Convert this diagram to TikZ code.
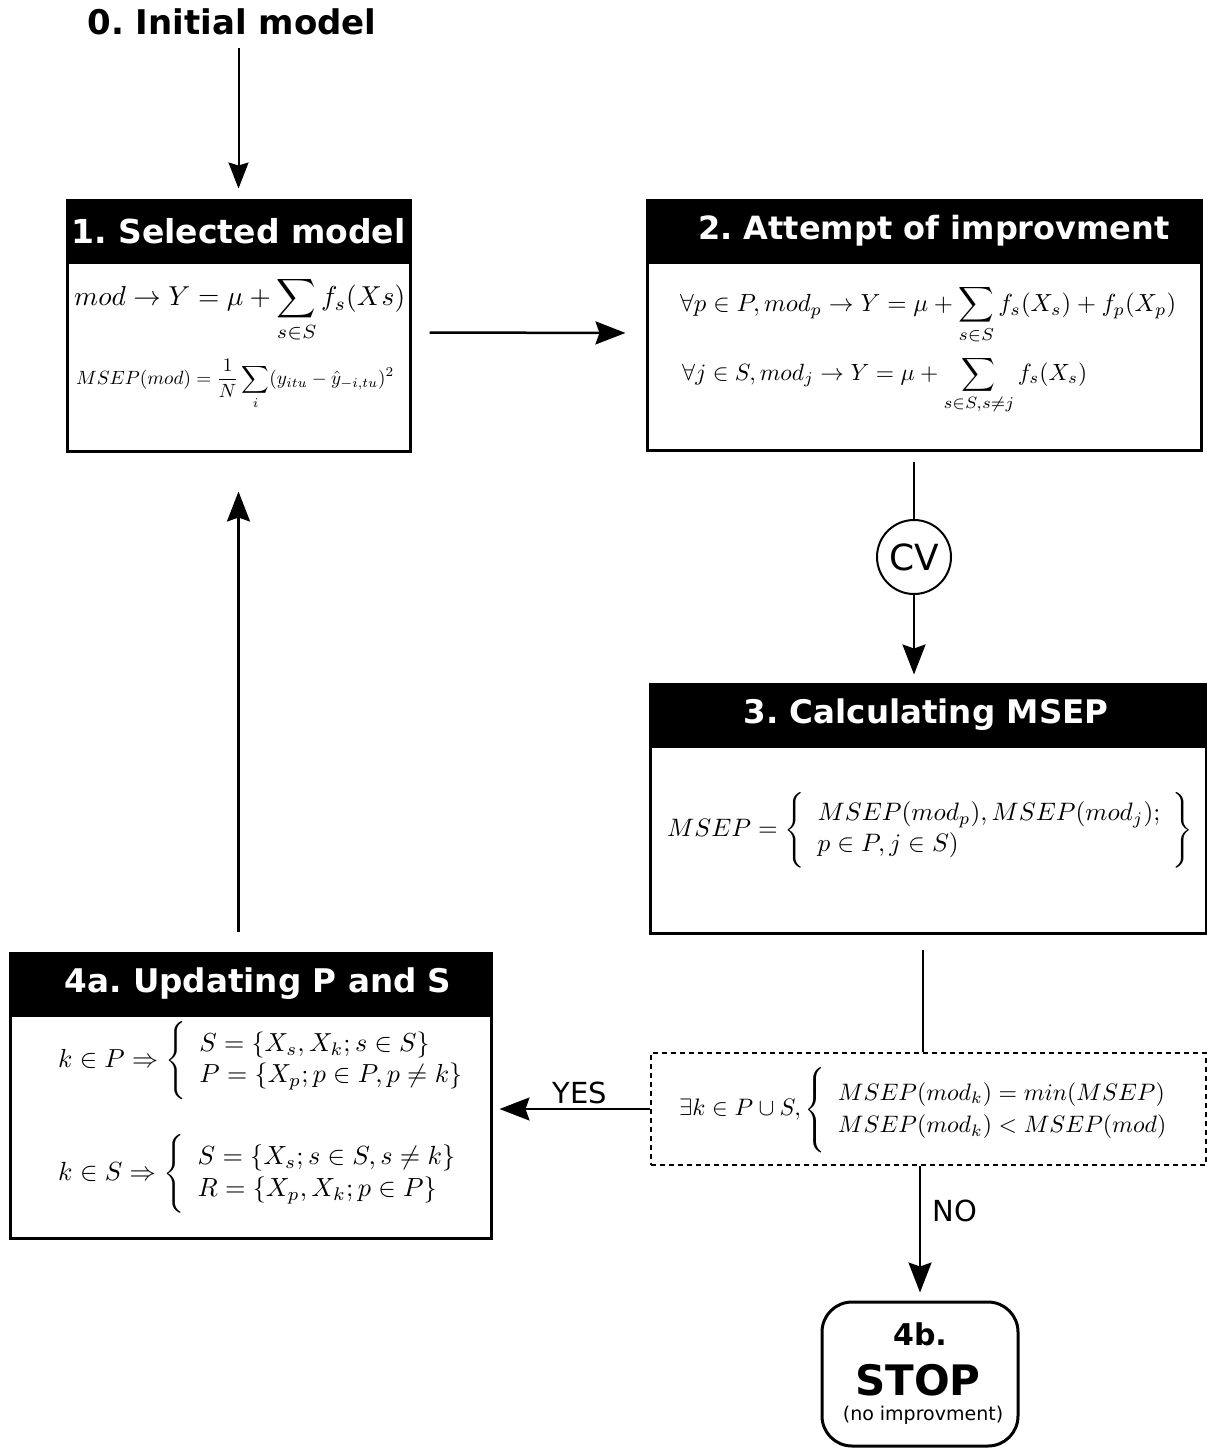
\documentclass[tikz,border=0pt]{standalone}
\usepackage{amsmath}
\usepackage{graphicx}
\usepackage{fontspec}
\newfontfamily\dvs{DejaVu Sans}
\usetikzlibrary{arrows.meta,calc}
\begin{document}
\begin{tikzpicture}[x=1pt,y=-1pt,
  box/.style={draw, line width=3pt, rectangle, inner sep=0pt},
  head/.style={fill=black, draw=black, line width=3pt, text=white, inner sep=0pt, minimum height=62pt, anchor=north},
  hf/.style={font=\dvs\bfseries\frenchspacing\fontsize{#1}{40}\selectfont},
  fml/.style={inner sep=0pt, anchor=west},
  conn/.style={line width=2.5pt},
  arr/.style={line width=2.5pt, -{Stealth[length=30pt,width=23pt,inset=4pt]}},
  lab/.style={font=\dvs\fontsize{29}{34}\selectfont, inner sep=0pt}
]
\useasboundingbox (0,0) rectangle (1207,1448);

% title
\node[inner sep=0pt, hf=34] (init) at (232,22) {0. Initial model};

% boxes
\node[box, minimum width=343pt, minimum height=251pt] (b1) at (238.5,325.5) {};
\node[head, hf=33, minimum width=343pt] (h1) at (b1.north) {1. Selected model};
\node[box, minimum width=554pt, minimum height=250pt] (b2) at (924,325) {};
\node[head, hf=32, minimum width=554pt] (h2) at (b2.north) {\hspace*{20pt}2. Attempt of improvment};
\node[box, minimum width=556pt, minimum height=249pt] (b3) at (928,808.5) {};
\node[head, hf=32.5, minimum width=556pt] (h3) at (b3.north) {3. Calculating MSEP\hspace*{4pt}};
\node[box, minimum width=481pt, minimum height=285pt] (b4) at (250.5,1095.5) {};
\node[head, hf=32.6, minimum width=481pt] (h4) at (b4.north) {\hspace*{15pt}4a. Updating P and S};
\node[draw, dashed, line width=1.2pt, dash pattern=on 5pt off 4pt, minimum width=555pt, minimum height=112pt, inner sep=0pt] (dash) at (928.5,1109) {};
\node[draw, line width=3pt, rounded corners=30pt, minimum width=196pt, minimum height=144pt, inner sep=0pt] (stop) at (920,1374) {};
\node[inner sep=0pt, font=\dvs\bfseries\fontsize{30}{34}\selectfont] (s1) at (920,1334) {4b.};
\node[inner sep=0pt, font=\dvs\bfseries\fontsize{42}{46}\selectfont] (s2) at (918,1380) {STOP};
\node[inner sep=0pt, font=\dvs\fontsize{19}{22}\selectfont] (s3) at (923,1415) {(no improvment)};
\node[draw, circle, line width=2pt, minimum size=74pt, inner sep=0pt, font=\dvs\fontsize{36}{40}\selectfont] (cv) at (914,557) {CV};

% formulas
\node[fml] (f11) at (74,310) {\resizebox{331pt}{!}{$\displaystyle mod \to Y = \mu + \sum_{s\in S} f_s(Xs)$}};
\node[fml] (f12) at (76,384) {\resizebox{318pt}{!}{$\displaystyle MSEP(mod) = \frac{1}{N}\sum_{i}(y_{itu} - \hat{y}_{-i,tu})^2$}};
\node[fml] (f21) at (680,315) {\resizebox{496pt}{!}{$\displaystyle \forall p\in P, mod_p \to Y = \mu + \sum_{s\in S} f_s(X_s) + f_p(X_p)$}};
\node[fml] (f22) at (682,385) {\resizebox{405pt}{!}{$\displaystyle \forall j\in S, mod_j \to Y = \mu + \sum_{s\in S, s\neq j} f_s(X_s)$}};
\node[fml] (f3) at (667,830) {\resizebox{526pt}{!}{\delimitershortfall=-2pt$MSEP = \left\{\begin{array}{l} MSEP(mod_p), MSEP(mod_j);\\ p\in P, j\in S) \end{array}\right\}$}};
\node[fml] (f41) at (58,1061) {\resizebox{404pt}{!}{\delimitershortfall=-3pt$k\in P \Rightarrow \left\{\begin{array}{l@{}} S=\{X_s, X_k; s\in S\}\\ P=\{X_p; p\in P, p\neq k\}\end{array}\right.\kern-\nulldelimiterspace$}};
\node[fml] (f42) at (58,1174) {\resizebox{397pt}{!}{\delimitershortfall=-3pt$k\in S \Rightarrow \left\{\begin{array}{l@{}} S=\{X_s; s\in S, s\neq k\}\\ R=\{X_p, X_k; p\in P\}\end{array}\right.\kern-\nulldelimiterspace$}};
\node[fml] (fd) at (679,1110) {\resizebox{487pt}{!}{\delimitershortfall=-3pt\renewcommand{\arraystretch}{1.15}$\exists k\in P\cup S, \left\{\begin{array}{l@{}} MSEP(mod_k) = min(MSEP)\\ MSEP(mod_k) < MSEP(mod)\end{array}\right.\kern-\nulldelimiterspace$}};

% labels
\node[lab] (yes) at (580,1093) {YES};
\node[lab] (no) at (955,1211) {NO};

% connectors
\draw[line width=2pt, -{Stealth[length=26pt,width=20pt,inset=3pt]}, shorten <=13pt, shorten >=10pt] (b1.north |- init.south) -- (b1.north);
\draw[arr, shorten <=18pt, shorten >=20pt] ([yshift=-7pt]b1.east) -- ([yshift=-8pt]b2.west);
\draw[conn, shorten <=10pt] (cv.north |- b2.south) -- (cv.north);
\draw[arr, shorten >=8pt] (cv.south) -- (cv.south |- b3.north);
\draw[conn, shorten <=15pt] ([xshift=-5pt]b3.south) -- ([xshift=-5pt]b3.south |- dash.north);
\draw[arr, shorten >=7pt] (dash.west) -- (dash.west -| b4.east);
\draw[arr, shorten >=8pt] (stop.north |- dash.south) -- (stop.north);
\draw[arr, shorten <=20pt, shorten >=39pt] (b1.south |- b4.north) -- (b1.south);
\end{tikzpicture}
\end{document}
